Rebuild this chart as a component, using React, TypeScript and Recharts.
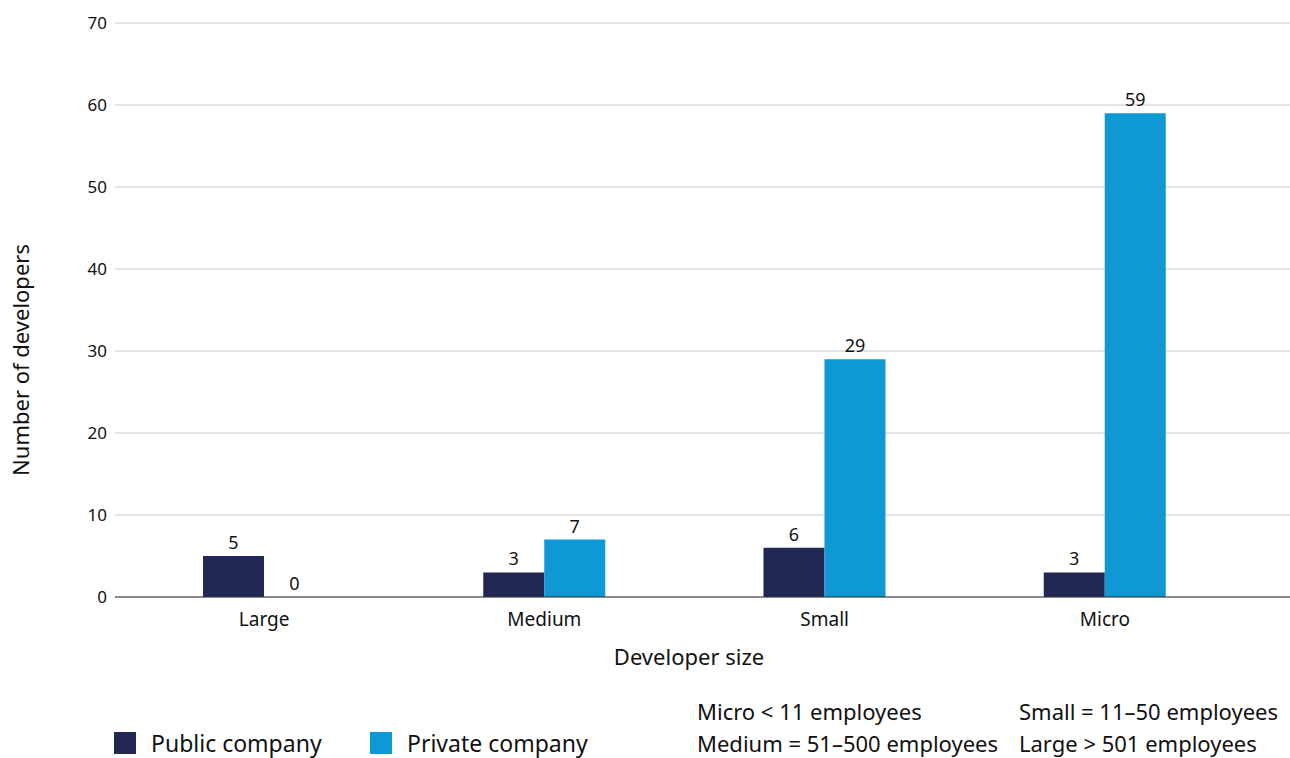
import { Bar, BarChart, CartesianGrid, LabelList, XAxis, YAxis } from 'recharts';

const sizes = ['Large', 'Medium', 'Small', 'Micro'];
const publicCompany = [5, 3, 6, 3];
const privateCompany = [0, 7, 29, 59];
const yTicks = [0, 10, 20, 30, 40, 50, 60, 70];
const sizeNotes = [
  'Micro < 11 employees',
  'Small = 11–50 employees',
  'Medium = 51–500 employees',
  'Large > 501 employees',
];

const data = sizes.map((name, i) => ({
  name,
  public: publicCompany[i],
  private: privateCompany[i],
}));

const FONT = '"Noto Sans", sans-serif';
const NAVY = '#202853';
const BLUE = '#0e98d4';

const series = [
  { key: 'public', name: 'Public company', color: NAVY },
  { key: 'private', name: 'Private company', color: BLUE },
];

export default function App() {
  return (
    <div style={{ position: 'absolute', left: 0, top: 0, width: 1290, height: 758, background: '#fff', overflow: 'hidden' }}>
      <BarChart
        width={1290}
        height={758}
        data={data}
        margin={{ top: 23, right: 0, left: 0, bottom: 131 }}
        barSize={61}
        barGap={0}
        style={{ fontFamily: FONT }}
      >
        <CartesianGrid vertical={false} stroke='#c6c6d6' />
        <XAxis
          dataKey='name'
          tickLine={false}
          tickMargin={10}
          height={30}
          padding={{ left: 9, right: 45 }}
          stroke='#333'
          tick={{ fill: '#111', fontSize: 19 }}
        />
        <YAxis
          width={115}
          domain={[0, 70]}
          ticks={yTicks}
          axisLine={false}
          tickLine={false}
          tick={{ fill: '#111', fontSize: 17 }}
        />
        {series.map((s) => (
          <Bar
            key={s.key}
            dataKey={s.key}
            name={s.name}
            fill={s.color}
            minPointSize={(value: number) => (value === 0 ? 0.01 : 0)}
            isAnimationActive={false}
          >
            <LabelList dataKey={s.key} position='top' offset={7} fill='#111' fontSize={18} />
          </Bar>
        ))}
      </BarChart>

      <div
        style={{
          position: 'absolute',
          left: 20,
          top: 360,
          transform: 'translate(-50%, -50%) rotate(-90deg)',
          whiteSpace: 'nowrap',
          fontFamily: FONT,
          fontSize: 22,
          color: '#111',
        }}
      >
        Number of developers
      </div>
      <div
        style={{
          position: 'absolute',
          left: 689,
          top: 656,
          transform: 'translate(-50%, -50%)',
          whiteSpace: 'nowrap',
          fontFamily: FONT,
          fontSize: 22,
          color: '#111',
        }}
      >
        Developer size
      </div>

      <div style={{ position: 'absolute', left: 114, top: 730, display: 'flex', fontFamily: FONT, fontSize: 23, lineHeight: '26px', color: '#111' }}>
        {series.map((s) => (
          <div key={s.key} style={{ display: 'flex', alignItems: 'center', width: 256 }}>
            <span style={{ display: 'inline-block', width: 22, height: 22, background: s.color, marginRight: 15 }} />
            <span>{s.name}</span>
          </div>
        ))}
      </div>

      {sizeNotes.map((note, i) => (
        <div
          key={note}
          style={{
            position: 'absolute',
            left: i % 2 === 0 ? 697 : 1019,
            top: i < 2 ? 698 : 730,
            whiteSpace: 'nowrap',
            fontFamily: FONT,
            fontSize: 22,
            lineHeight: '26px',
            color: '#111',
          }}
        >
          {note}
        </div>
      ))}
    </div>
  );
}
